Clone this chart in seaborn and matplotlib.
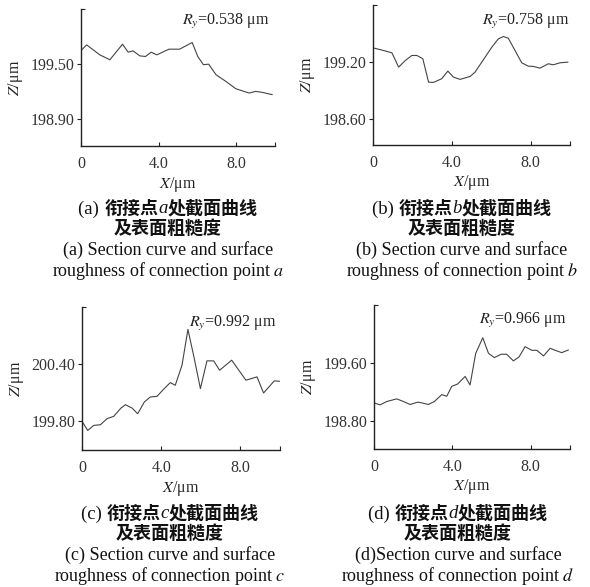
import numpy as np
import pandas as pd
import matplotlib
matplotlib.use("Agg")
import matplotlib.pyplot as plt
import seaborn as sns
from matplotlib.offsetbox import TextArea, HPacker, AnnotationBbox

# Perfiles de sección
x_a = [0.0, 0.29, 0.97, 1.49, 2.14, 2.43, 2.68, 3.03, 3.32, 3.62, 3.91, 4.53, 5.08,
       5.73, 6.02, 6.31, 6.58, 6.96, 7.47, 7.98, 8.67, 9.0, 9.35, 9.86]
z_a = [199.645, 199.707, 199.598, 199.544, 199.715, 199.627, 199.642, 199.587, 199.58,
       199.627, 199.598, 199.66, 199.66, 199.733, 199.58, 199.49, 199.496, 199.38,
       199.307, 199.227, 199.18, 199.198, 199.187, 199.162]

x_b = [0.0, 0.54, 0.96, 1.30, 1.64, 1.97, 2.23, 2.53, 2.82, 3.07, 3.49, 3.8, 4.08, 4.42,
       4.93, 5.18, 5.69, 6.03, 6.36, 6.62, 6.87, 7.21, 7.55, 7.88, 8.14, 8.48, 8.9,
       9.15, 9.49, 9.9]
z_b = [199.35, 199.322, 199.298, 199.148, 199.217, 199.27, 199.27, 199.235, 198.99,
       198.987, 199.026, 199.106, 199.043, 199.019, 199.05, 199.095, 199.252, 199.357,
       199.444, 199.469, 199.451, 199.322, 199.193, 199.158, 199.155, 199.137, 199.183,
       199.172, 199.193, 199.2]

x_c = [0.0, 0.29, 0.59, 0.93, 1.26, 1.6, 1.97, 2.19, 2.53, 2.81, 3.15, 3.45, 3.79, 4.12,
       4.46, 4.71, 5.05, 5.35, 5.67, 5.98, 6.31, 6.65, 6.95, 7.56, 8.28, 8.84, 9.17,
       9.71, 9.98]
z_c = [199.80, 199.705, 199.758, 199.765, 199.828, 199.853, 199.94, 199.975, 199.94,
       199.88, 200.004, 200.056, 200.063, 200.137, 200.207, 200.179, 200.389, 200.765,
       200.46, 200.144, 200.435, 200.435, 200.337, 200.442, 200.232, 200.267, 200.098,
       200.225, 200.221]

x_d = [0.0, 0.31, 0.65, 1.16, 1.5, 1.84, 2.23, 2.43, 2.77, 3.08, 3.46, 3.71, 3.97, 4.27,
       4.65, 4.9, 5.19, 5.55, 5.84, 6.14, 6.49, 6.77, 7.11, 7.4, 7.71, 8.05, 8.31, 8.65,
       8.99, 9.24, 9.58, 9.92]
z_d = [199.055, 199.027, 199.073, 199.109, 199.073, 199.032, 199.064, 199.055, 199.032,
       199.073, 199.168, 199.145, 199.282, 199.314, 199.418, 199.3, 199.736, 199.95,
       199.736, 199.677, 199.723, 199.723, 199.632, 199.686, 199.827, 199.777, 199.777,
       199.7, 199.805, 199.777, 199.745, 199.782]

letters = ["a", "b", "c", "d"]
ry_values = ["0.538", "0.758", "0.992", "0.966"]
y_ticks = [[198.90, 199.50], [198.60, 199.20], [199.80, 200.40], [198.80, 199.60]]
y_tops = [200.10, 199.80, 201.00, 200.40]
y_bottoms = [198.60, 198.33, 199.50, 198.42]
x_ticks = [0, 4, 8, 10]
x_tick_labels = ["0", "4.0", "8.0", ""]

sns.set_theme(style="ticks")
plt.rcParams["font.family"] = ["Liberation Serif", "Noto Sans CJK SC"]
plt.rcParams["mathtext.fontset"] = "stix"

fig = plt.figure(figsize=(5.9, 5.87), dpi=100)
W, H = 590, 587

# posiciones de los ejes en píxeles: izquierda, derecha, arriba, abajo
boxes = [(81, 275, 9, 146), (373, 570, 5, 145), (82, 280, 307, 450), (374, 570, 305, 449)]
ry_pos = [(0.52, 0.91), (0.553, 0.88), (0.54, 0.888), (0.536, 0.889)]
cap_x = [168, 462, 170, 458]
cap_y0 = [208, 208, 513, 513]

datasets = [(x_a, z_a), (x_b, z_b), (x_c, z_c), (x_d, z_d)]
ink = "#111111"

for i, (xs, zs) in enumerate(datasets):
    l, r, t, b = boxes[i]
    ax = fig.add_axes([l / W, 1 - b / H, (r - l) / W, (b - t) / H])
    df = pd.DataFrame({"x": xs, "z": zs})
    sns.lineplot(data=df, x="x", y="z", ax=ax, color="#444444", linewidth=0.8)
    ax.set_xlim(0, 10)
    ax.set_ylim(y_bottoms[i], y_tops[i])
    ax.set_xticks(x_ticks)
    ax.set_xticklabels(x_tick_labels)
    ax.set_yticks(y_ticks[i])
    ax.set_yticklabels([f"{v:.2f}" for v in y_ticks[i]])
    ax.set_yticks([y_tops[i]], minor=True)
    sns.despine(ax=ax)
    for s in ["left", "bottom"]:
        ax.spines[s].set_color("#222222")
        ax.spines[s].set_linewidth(1.0)
    ax.tick_params(axis="x", direction="in", length=3, width=0.8, colors="#222222",
                   labelsize=11.5, labelcolor="#333333", pad=7)
    ax.tick_params(axis="y", which="major", direction="out", length=3, width=0.8,
                   colors="#222222", labelsize=11.5, labelcolor="#333333", pad=2)
    ax.tick_params(axis="y", which="minor", direction="in", length=3, width=0.8,
                   colors="#222222")
    ax.set_xlabel(r"$X$/μm", fontsize=11.5, color="#222222", labelpad=2)
    ax.set_ylabel(r"$Z$/μm", fontsize=11.5, color="#222222", labelpad=4)
    ax.text(ry_pos[i][0], ry_pos[i][1], rf"$R_y$=0.{ry_values[i][2:]} μm",
            transform=ax.transAxes, fontsize=11.5, color="#222222", va="center")

    # leyendas de cada subfigura
    L = letters[i]
    cjk = dict(family="Noto Sans CJK SC", weight="bold", size=13, color=ink)
    ser = dict(family="Liberation Serif", size=13.5, color=ink)
    line1 = HPacker(children=[
        TextArea(f"({L}) ", textprops=ser),
        TextArea("衔接点", textprops=cjk),
        TextArea(L, textprops=dict(ser, style="italic")),
        TextArea("处截面曲线", textprops=cjk)], sep=0, align="baseline")
    y0 = cap_y0[i]
    fig.add_artist(AnnotationBbox(line1, (cap_x[i] / W, 1 - y0 / H),
                                  xycoords="figure fraction", frameon=False,
                                  box_alignment=(0.5, 0.5), pad=0))
    fig.text(cap_x[i] / W, 1 - (y0 + 20) / H, "及表面粗糙度", ha="center", va="center",
             family="Noto Sans CJK SC", weight="bold", size=13, color=ink)
    first = f"({L})Section curve and surface" if L == "d" else f"({L}) Section curve and surface"
    fig.text(cap_x[i] / W, 1 - (y0 + 42) / H, first, ha="center", va="center",
             size=13, color=ink)
    fig.text(cap_x[i] / W, 1 - (y0 + 63) / H, rf"roughness of connection point ${L}$",
             ha="center", va="center", size=13, color=ink)

fig.savefig("out.png", dpi=100, facecolor="white")
